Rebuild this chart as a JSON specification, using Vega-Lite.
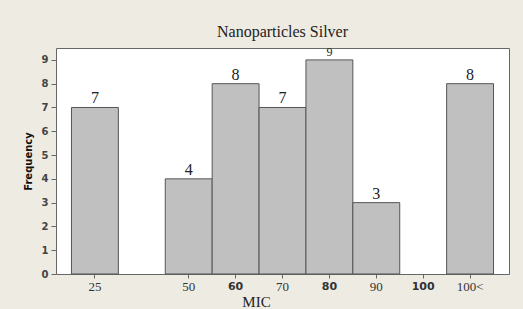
{
  "$schema": "https://vega.github.io/schema/vega-lite/v6.json",
  "width": 453,
  "height": 226,
  "autosize": {"type": "none"},
  "padding": {"left": 56, "top": 48, "right": 14, "bottom": 35},
  "background": "#EEEBE3",
  "title": {
    "text": "Nanoparticles Silver",
    "font": "Liberation Serif",
    "fontSize": 16,
    "fontWeight": "normal",
    "color": "#222222",
    "offset": 6
  },
  "config": {
    "view": {"fill": "white", "stroke": "#666666", "strokeWidth": 1}
  },
  "data": {
    "values": [
      {"MIC": "25", "Frequency": 7},
      {"MIC": "50", "Frequency": 4},
      {"MIC": "60", "Frequency": 8},
      {"MIC": "70", "Frequency": 7},
      {"MIC": "80", "Frequency": 9},
      {"MIC": "90", "Frequency": 3},
      {"MIC": "100", "Frequency": 0},
      {"MIC": "100<", "Frequency": 8}
    ]
  },
  "encoding": {
    "x": {
      "field": "MIC",
      "type": "ordinal",
      "sort": null,
      "scale": {
        "type": "band",
        "domain": ["25", "", "50", "60", "70", "80", "90", "100", "100<"],
        "paddingInner": 0,
        "paddingOuter": 0.33
      },
      "axis": {
        "title": "MIC",
        "values": ["25", "50", "60", "70", "80", "90", "100", "100<"],
        "labelAngle": 0,
        "labelFont": {"condition": {"test": "datum.value == '60' || datum.value == '80' || datum.value == '100'", "value": "DejaVu Sans"}, "value": "Liberation Serif"},
        "labelFontSize": {"condition": {"test": "datum.value == '60' || datum.value == '80' || datum.value == '100'", "value": 11}, "value": 13},
        "labelFontWeight": {"condition": {"test": "datum.value == '60' || datum.value == '80' || datum.value == '100'", "value": "bold"}, "value": "normal"},
        "labelColor": "#333333",
        "labelPadding": 2,
        "tickSize": 4,
        "tickColor": "#666666",
        "domain": false,
        "titleFont": "Liberation Serif",
        "titleFontSize": 15,
        "titleFontWeight": "normal",
        "titleColor": "#222222",
        "titleBaseline": "alphabetic",
        "titleX": 200,
        "titleY": 32
      }
    },
    "y": {
      "field": "Frequency",
      "type": "quantitative",
      "scale": {"domain": [0, 9.5], "nice": false},
      "axis": {
        "title": "Frequency",
        "values": [0, 1, 2, 3, 4, 5, 6, 7, 8, 9],
        "grid": false,
        "domain": false,
        "tickSize": 5,
        "tickColor": "#666666",
        "labelFont": "DejaVu Sans",
        "labelFontSize": 10,
        "labelFontWeight": "bold",
        "labelColor": "#444444",
        "labelPadding": 3,
        "titleFont": "DejaVu Sans",
        "titleFontSize": 10,
        "titleFontWeight": "bold",
        "titleColor": "#111111",
        "titlePadding": 8
      }
    }
  },
  "layer": [
    {
      "transform": [{"filter": "datum.Frequency > 0"}],
      "mark": {"type": "bar", "fill": "#C0C0C0", "stroke": "#555555", "strokeWidth": 1}
    },
    {
      "transform": [{"filter": "datum.Frequency > 0"}],
      "mark": {"type": "text", "font": "Liberation Serif", "color": "#222222", "baseline": "alphabetic", "dy": -4},
      "encoding": {
        "text": {"field": "Frequency", "type": "quantitative"},
        "size": {"condition": {"test": "datum.Frequency == 9", "value": 12}, "value": 16}
      }
    }
  ]
}
